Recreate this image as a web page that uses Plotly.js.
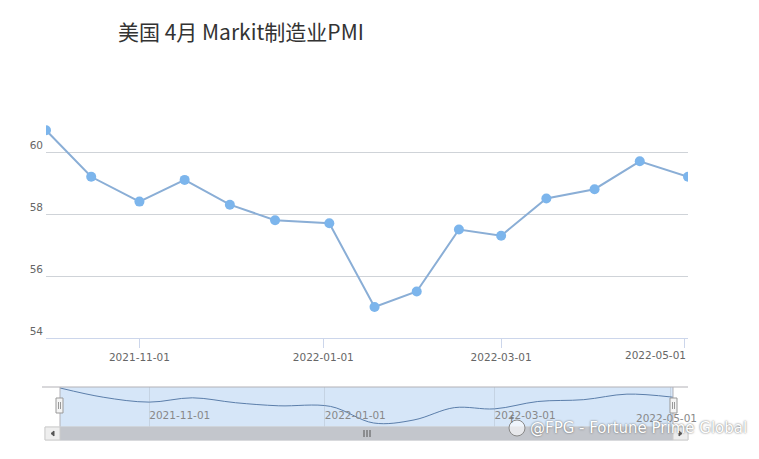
<!DOCTYPE html>
<html><head><meta charset="utf-8">
<script src="https://cdn.plot.ly/plotly-3.0.1.min.js"></script>
<style>html,body{margin:0;padding:0;background:#fff}#chart{width:759px;height:459px}</style>
</head><body><div id="chart"></div>
<script>
const dates = ["2021-10-01","2021-10-16","2021-11-01","2021-11-16","2021-12-01","2021-12-16","2022-01-03","2022-01-18","2022-02-01","2022-02-15","2022-03-01","2022-03-16","2022-04-01","2022-04-16","2022-05-02"];
const pmi = [60.7,59.2,58.4,59.1,58.3,57.8,57.7,55.0,55.5,57.5,57.3,58.5,58.8,59.7,59.2];
const xTicks = ["2021-11-01","2022-01-01","2022-03-01","2022-05-01"];
const yTicks = [54,56,58,60];
const titleText = "美国 4月 Markit制造业PMI";
const watermark = "@FPG - Fortune Prime Global";

const W=759,H=459,L=46,R=688;
const px=x=>(x-L)/(R-L), py=y=>(H-y)/H;
const lastTick = xTicks[xTicks.length-1];
const mainTickText = xTicks.map((t,i)=> i===xTicks.length-1 ? "" : t);

const main = {x:dates,y:pmi,type:"scatter",mode:"lines+markers",xaxis:"x",yaxis:"y",
  line:{color:"#8aaed6",width:2},marker:{color:"#7cb5ec",size:10},hoverinfo:"x+y",showlegend:false};
const nav = {x:dates,y:pmi,type:"scatter",mode:"lines",xaxis:"x2",yaxis:"y2",
  line:{color:"#5b7eaa",width:1,shape:"spline",smoothing:1},hoverinfo:"skip",showlegend:false};

const shapes=[
  {type:"rect",xref:"x2 domain",yref:"y2 domain",x0:0,x1:1,y0:0,y1:1,fillcolor:"#d6e6f8",line:{width:0},layer:"below"},
  {type:"line",xref:"paper",yref:"paper",x0:px(42),x1:px(688),y0:py(387),y1:py(387),line:{color:"#b2b1b6",width:1}},
  {type:"line",xref:"paper",yref:"paper",x0:px(60),x1:px(60),y0:py(387),y1:py(427),line:{color:"#b2b1b6",width:1}},
  {type:"line",xref:"paper",yref:"paper",x0:px(673),x1:px(673),y0:py(387),y1:py(427),line:{color:"#b2b1b6",width:1}},
  {type:"rect",xref:"paper",yref:"paper",x0:px(45),x1:px(688),y0:py(440),y1:py(427),fillcolor:"#f2f2f2",line:{color:"#e0e0e0",width:1}},
  {type:"rect",xref:"paper",yref:"paper",x0:px(60),x1:px(673),y0:py(440),y1:py(427),fillcolor:"#c3c6cc",line:{color:"#c3c6cc",width:1}},
  {type:"rect",xref:"paper",yref:"paper",x0:px(45),x1:px(60),y0:py(440),y1:py(427),fillcolor:"#eeeeee",line:{color:"#cccccc",width:1}},
  {type:"rect",xref:"paper",yref:"paper",x0:px(673),x1:px(688),y0:py(440),y1:py(427),fillcolor:"#eeeeee",line:{color:"#cccccc",width:1}},
  {type:"path",xref:"paper",yref:"paper",path:`M ${px(54)} ${py(431)} L ${px(51)} ${py(433.5)} L ${px(54)} ${py(436)} Z`,fillcolor:"#555",line:{color:"#555",width:1}},
  {type:"path",xref:"paper",yref:"paper",path:`M ${px(679)} ${py(431)} L ${px(682)} ${py(433.5)} L ${px(679)} ${py(436)} Z`,fillcolor:"#555",line:{color:"#555",width:1}},
  {type:"line",xref:"paper",yref:"paper",x0:px(364),x1:px(364),y0:py(430),y1:py(437),line:{color:"#555",width:1}},
  {type:"line",xref:"paper",yref:"paper",x0:px(367),x1:px(367),y0:py(430),y1:py(437),line:{color:"#555",width:1}},
  {type:"line",xref:"paper",yref:"paper",x0:px(370),x1:px(370),y0:py(430),y1:py(437),line:{color:"#555",width:1}},
  {type:"rect",xref:"paper",yref:"paper",x0:px(56),x1:px(63),y0:py(413),y1:py(398),fillcolor:"#f4f4f4",line:{color:"#999",width:1}},
  {type:"line",xref:"paper",yref:"paper",x0:px(58.5),x1:px(58.5),y0:py(402),y1:py(409),line:{color:"#999",width:1}},
  {type:"line",xref:"paper",yref:"paper",x0:px(60.5),x1:px(60.5),y0:py(402),y1:py(409),line:{color:"#999",width:1}},
  {type:"rect",xref:"paper",yref:"paper",x0:px(670),x1:px(677),y0:py(413),y1:py(398),fillcolor:"#f4f4f4",line:{color:"#999",width:1}},
  {type:"line",xref:"paper",yref:"paper",x0:px(672.5),x1:px(672.5),y0:py(402),y1:py(409),line:{color:"#999",width:1}},
  {type:"line",xref:"paper",yref:"paper",x0:px(674.5),x1:px(674.5),y0:py(402),y1:py(409),line:{color:"#999",width:1}},
  {type:"circle",xref:"paper",yref:"paper",x0:px(509),x1:px(525),y0:py(436),y1:py(420),fillcolor:"rgba(255,255,255,0.6)",line:{color:"#888",width:1}}
];

const layout={
  width:W,height:H,margin:{l:L,r:W-R,t:0,b:0},
  paper_bgcolor:"#fff",plot_bgcolor:"#fff",
  font:{family:"DejaVu Sans, sans-serif",size:11,color:"#666"},
  title:{text:titleText,x:118/W,xanchor:"left",xref:"container",y:1-33/H,yanchor:"middle",yref:"container",
    font:{family:"Noto Sans CJK SC, sans-serif",size:21,color:"#333"}},
  xaxis:{type:"date",domain:[0,1],anchor:"y",range:[dates[0],dates[dates.length-1]],
    tickvals:xTicks,ticktext:mainTickText,tickfont:{size:10.5,color:"#666"},
    showgrid:false,zeroline:false,showline:true,linecolor:"#ccd6eb",linewidth:1,
    ticks:"outside",ticklen:9,tickcolor:"#ccd6eb"},
  yaxis:{domain:[py(338),py(121)],anchor:"x",range:[54,61],tickvals:yTicks,
    tickfont:{size:10.5,color:"#666"},showgrid:true,gridcolor:"#cfd3d8",zeroline:false,
    showline:false,ticks:"",ticklabelshift:-7,ticklabelstandoff:2},
  xaxis2:{type:"date",domain:[px(60),px(673)],anchor:"y2",range:[dates[0],dates[dates.length-1]],
    tickvals:xTicks,ticktext:xTicks,ticklabelposition:"inside right",
    tickfont:{size:10.5,color:"#888"},showgrid:true,gridcolor:"#c5d3e3",zeroline:false,showline:false,ticks:""},
  yaxis2:{domain:[py(427),py(387)],anchor:"x2",range:[54.35,60.86],visible:false,showgrid:false,zeroline:false},
  shapes:shapes,
  annotations:[
    {text:lastTick,xref:"paper",yref:"paper",x:px(688),y:py(355),xanchor:"right",yanchor:"middle",showarrow:false,
     font:{family:"DejaVu Sans, sans-serif",size:10.5,color:"#666"}},
    {text:lastTick,xref:"paper",yref:"paper",x:px(634),y:py(418),xanchor:"left",yanchor:"middle",showarrow:false,
     font:{family:"DejaVu Sans, sans-serif",size:10.5,color:"#888"}},
    {text:"f",xref:"paper",yref:"paper",x:px(517),y:py(428),showarrow:false,font:{family:"DejaVu Sans",size:11,color:"#777"}},
    {text:watermark,xref:"paper",yref:"paper",x:px(528),y:py(428),xanchor:"left",yanchor:"middle",showarrow:false,
     font:{family:"DejaVu Sans, sans-serif",size:15,color:"#ffffff",shadow:"0 0 2px #555"}}
  ],
  hovermode:"closest"
};
Plotly.newPlot("chart",[main,nav],layout,{displayModeBar:false,staticPlot:true});
</script></body></html>
